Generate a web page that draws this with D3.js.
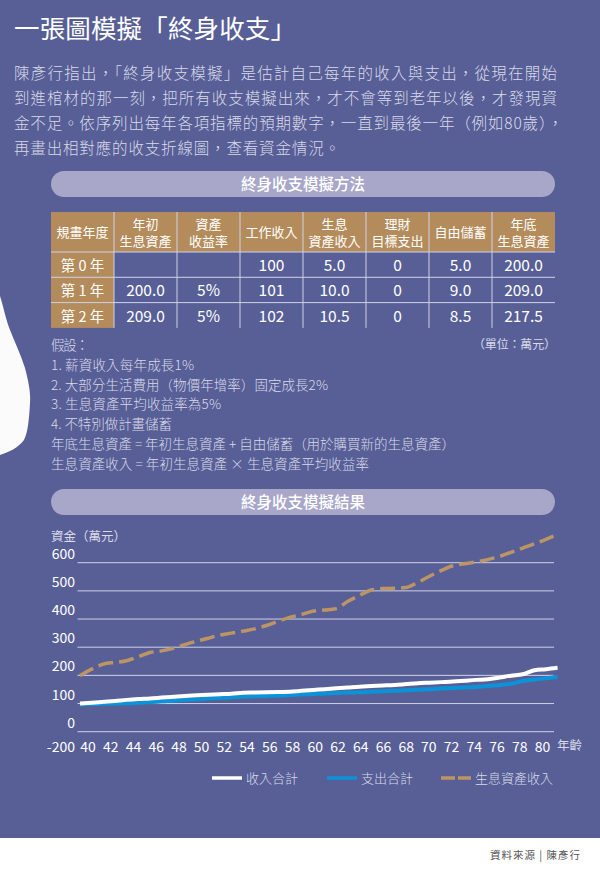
<!DOCTYPE html>
<html>
<head>
<meta charset="utf-8">
<script src="https://cdn.jsdelivr.net/npm/d3@7"></script>
<style>
html, body { margin: 0; padding: 0; background: #fff; }
svg { display: block; }
text { font-family: "Noto Sans CJK TC", "Noto Sans", sans-serif; }
</style>
</head>
<body>
<div id="chart"></div>
<script>
var bodyLines = [
  "陳彥行指出\uFF0C「終身收支模擬」是估計自己每年的收入與支出\uFF0C從現在開始",
  "到進棺材的那一刻\uFF0C把所有收支模擬出來\uFF0C才不會等到老年以後\uFF0C才發現資",
  "金不足。依序列出每年各項指標的預期數字\uFF0C一直到最後一年\uFF08例如80歲\uFF09\uFF0C",
  "再畫出相對應的收支折線圖\uFF0C查看資金情況。"
];
var bodyWidths = [543, 543, 549, 326];

var tableHeaders = [["規畫年度"], ["年初", "生息資產"], ["資產", "收益率"], ["工作收入"], ["生息", "資產收入"], ["理財", "目標支出"], ["自由儲蓄"], ["年底", "生息資產"]];
var tableRows = [
  ["第 0 年", "", "", "100", "5.0", "0", "5.0", "200.0"],
  ["第 1 年", "200.0", "5%", "101", "10.0", "0", "9.0", "209.0"],
  ["第 2 年", "209.0", "5%", "102", "10.5", "0", "8.5", "217.5"]
];
var columnEdges = [51, 114, 177, 240, 303, 366, 429, 492, 555];

var noteLines = [
  "假設\uFF1A",
  "1. 薪資收入每年成長1%",
  "2. 大部分生活費用\uFF08物價年增率\uFF09固定成長2%",
  "3. 生息資產平均收益率為5%",
  "4. 不特別做計畫儲蓄",
  "年底生息資產 = 年初生息資產 + 自由儲蓄\uFF08用於購買新的生息資產\uFF09",
  "生息資產收入 = 年初生息資產 × 生息資產平均收益率"
];
var noteWidths = [38, 143, 277, 170, 121, 404, 318];

var ages = d3.range(40, 82);
var income = [100,103,106,109,113,116,118,121,124,127,129,131,133,135,138,139,140,141,142,145,148,151,154,157,160,162,164,166,169,172,174,176,178,181,184,186,192,199,204,218,222,227];
var spending = [97,98,99,100,101,103,105,108,110,113,115,118,120,122,124,126,127,128,130,132,134,136,137,139,140,142,144,145,147,149,151,153,155,157,159,162,166,170,180,185,190,194];
var assetIncome = [199,222,240,246,252,266,281,287,296,309,321,332,343,350,357,365,377,392,406,416,428,432,437,463,484,503,508,509,512,530,552,572,589,596,603,611,622,637,652,667,683,701];

var yTicks = [0, 100, 200, 300, 400, 500, 600];
var xTicks = d3.range(40, 81, 2);
var legendItems = [
  { name: "收入合計", color: "#ffffff", dash: null, x: 212 },
  { name: "支出合計", color: "#0a93d8", dash: null, x: 327 },
  { name: "生息資產收入", color: "#bd9565", dash: "14 3", x: 441 }
];

var bg = "#585f97", pill = "#a8a6c9", tan = "#b48c5c", textColor = "#d9dae8", rule = "#cfd2e6";

var svg = d3.select("#chart").append("svg").attr("width", 600).attr("height", 872);
svg.append("rect").attr("width", 600).attr("height", 838).attr("fill", bg);

// white shape at the left edge
svg.append("path")
  .attr("d", "M0,296 C3,305 6,320 10,330 C15,343 21,355 25,368 C28,380 31,392 30,403 C29,420 28,432 24,440 C18,448 9,452 0,455 Z")
  .attr("fill", "#fbfbfb");

svg.append("text").attr("x", 14).attr("y", 38)
  .attr("font-size", 25.5).attr("fill", "#fff")
  .attr("textLength", 282).attr("lengthAdjust", "spacing")
  .text("一張圖模擬「終身收支」");

svg.selectAll(".body-line").data(bodyLines).enter().append("text")
  .attr("class", "body-line")
  .attr("x", 14)
  .attr("y", (d, i) => 79 + i * 25)
  .attr("font-size", 15.5).attr("fill", textColor).attr("font-weight", 300)
  .attr("textLength", (d, i) => bodyWidths[i]).attr("lengthAdjust", "spacing")
  .text(d => d);

function titlePill(y, label) {
  svg.append("rect").attr("x", 51).attr("y", y).attr("width", 504).attr("height", 26)
    .attr("rx", 13).attr("fill", pill);
  svg.append("text").attr("x", 303).attr("y", y + 19).attr("text-anchor", "middle")
    .attr("font-size", 15.5).attr("font-weight", 500).attr("fill", "#fff").text(label);
}
titlePill(171, "終身收支模擬方法");
titlePill(489, "終身收支模擬結果");

// table
var tableTop = 212, headerH = 40, rowH = 25.3;
var table = svg.append("g");
table.append("rect").attr("x", 51).attr("y", tableTop).attr("width", 504).attr("height", headerH).attr("fill", tan);
table.append("rect").attr("x", 51).attr("y", tableTop + headerH).attr("width", 63).attr("height", rowH * 3).attr("fill", tan);
table.selectAll(".vrule").data(columnEdges.slice(1, -1)).enter().append("line")
  .attr("x1", d => d).attr("x2", d => d)
  .attr("y1", tableTop).attr("y2", tableTop + headerH + rowH * 3)
  .attr("stroke", rule).attr("stroke-width", 1);
table.selectAll(".hrule").data(d3.range(3)).enter().append("line")
  .attr("x1", 51).attr("x2", 555)
  .attr("y1", d => tableTop + headerH + d * rowH).attr("y2", d => tableTop + headerH + d * rowH)
  .attr("stroke", rule).attr("stroke-width", 1);

var headerCells = table.selectAll(".head").data(tableHeaders).enter().append("text")
  .attr("class", "head")
  .attr("text-anchor", "middle").attr("font-size", 13).attr("fill", "#fff");
headerCells.selectAll("tspan").data(d => d).enter().append("tspan")
  .attr("x", function () {
    var c = tableHeaders.indexOf(d3.select(this.parentNode).datum());
    return (columnEdges[c] + columnEdges[c + 1]) / 2;
  })
  .attr("y", function (d, i) {
    var lines = d3.select(this.parentNode).datum();
    return lines.length == 1 ? tableTop + 25 : tableTop + 17 + i * 16.5;
  })
  .text(d => d);

tableRows.forEach(function (row, r) {
  table.selectAll(".r" + r).data(row).enter().append("text")
    .attr("x", (d, c) => (columnEdges[c] + columnEdges[c + 1]) / 2)
    .attr("y", tableTop + headerH + r * rowH + 19)
    .attr("text-anchor", "middle").attr("font-size", (d, c) => c == 0 ? 14.5 : 15.5).attr("fill", "#fff")
    .text(d => d);
});

svg.append("text").attr("x", 473).attr("y", 349)
  .attr("font-size", 12).attr("fill", textColor)
  .attr("textLength", 83).attr("lengthAdjust", "spacing").text("\uFF08單位\uFF1A萬元\uFF09");

svg.selectAll(".note").data(noteLines).enter().append("text")
  .attr("class", "note")
  .attr("x", 51)
  .attr("y", (d, i) => 350 + i * 19.8)
  .attr("font-size", 13.5).attr("font-weight", 300).attr("fill", textColor)
  .attr("textLength", (d, i) => noteWidths[i]).attr("lengthAdjust", "spacing")
  .text(d => d);

// chart
var y = d3.scaleLinear().domain([0, 600]).range([731.7, 562.7]);
var xLabel = d3.scaleLinear().domain([40, 80]).range([88, 542.5]);
var xLine = d3.scaleLinear().domain([40, 81]).range([80, 557.6]);

svg.selectAll(".grid").data(yTicks).enter().append("line")
  .attr("x1", 77.5).attr("x2", 554)
  .attr("y1", d => y(d)).attr("y2", d => y(d))
  .attr("stroke", rule).attr("stroke-width", 1);

svg.selectAll(".ytick").data(yTicks).enter().append("text")
  .attr("x", 75).attr("y", d => y(d) - 4)
  .attr("text-anchor", "end").attr("font-size", 14).attr("fill", "#fff")
  .text(d => d);

svg.append("text").attr("x", 75).attr("y", 752).attr("text-anchor", "end")
  .attr("font-size", 14).attr("fill", "#fff").text("-200");

svg.selectAll(".xtick").data(xTicks).enter().append("text")
  .attr("x", d => xLabel(d)).attr("y", 752)
  .attr("text-anchor", "middle").attr("font-size", 14).attr("fill", "#fff")
  .text(d => d);

svg.append("text").attr("x", 557).attr("y", 750)
  .attr("font-size", 12.5).attr("fill", textColor).text("年齡");
svg.append("text").attr("x", 51).attr("y", 541)
  .attr("font-size", 12.5).attr("fill", textColor)
  .attr("textLength", 75).attr("lengthAdjust", "spacing").text("資金\uFF08萬元\uFF09");

var line = d3.line().x((d, i) => xLine(ages[i])).y(d => y(d)).curve(d3.curveMonotoneX);
[
  { values: assetIncome, color: "#bd9565", dash: "15 6", width: 3.5 },
  { values: spending, color: "#0a93d8", dash: null, width: 4 },
  { values: income, color: "#ffffff", dash: null, width: 4 }
].forEach(function (s) {
  svg.append("path").datum(s.values).attr("d", line)
    .attr("fill", "none").attr("stroke", s.color).attr("stroke-width", s.width)
    .attr("stroke-dasharray", s.dash);
});

// legend
var legend = svg.selectAll(".legend").data(legendItems).enter().append("g")
  .attr("transform", d => "translate(" + d.x + ",778)");
legend.append("line").attr("x1", 0).attr("x2", 30).attr("y1", 0).attr("y2", 0)
  .attr("stroke", d => d.color).attr("stroke-width", 3.5).attr("stroke-dasharray", d => d.dash);
legend.append("text").attr("x", 34).attr("y", 5)
  .attr("font-size", 13).attr("font-weight", 300).attr("fill", textColor).text(d => d.name);

svg.append("text").attr("x", 490).attr("y", 859)
  .attr("font-size", 10.5).attr("fill", "#555")
  .attr("textLength", 90).attr("lengthAdjust", "spacing").text("資料來源 | 陳彥行");
</script>
</body>
</html>
